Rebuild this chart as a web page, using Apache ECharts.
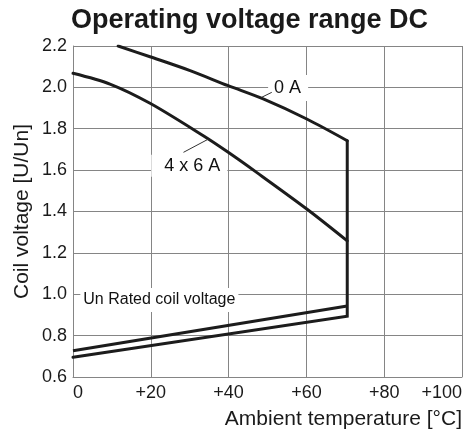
<!DOCTYPE html>
<html><head><meta charset="utf-8">
<script src="https://cdn.jsdelivr.net/npm/echarts@6/dist/echarts.min.js"></script>
<style>html,body{margin:0;padding:0;background:#fff}#c{width:465px;height:434px}</style>
</head><body><div id="c"></div>
<script>
// ---- data ----
const titleText = 'Operating voltage range DC';
const xName = 'Ambient temperature [°C]';
const yName = 'Coil voltage [U/Un]';
const xMin = 0, xMax = 100, xStep = 20;
const yMin = 0.6, yMax = 2.2, yStep = 0.2;

// upper limit at 0 A load current
const tempA0 = [11.6, 19.8, 30.1, 39.9, 48.9, 60.1, 70.5];
const voltA0 = [2.2, 2.148, 2.081, 2.008, 1.944, 1.847, 1.742];
// upper limit at 4 x 6 A
const temp4x6 = [0, 9.5, 19.8, 33.5, 39.9, 47.2, 60.1, 70.5];
const volt4x6 = [2.068, 2.016, 1.923, 1.766, 1.686, 1.589, 1.412, 1.258];
// maximum ambient temperature (vertical limit)
const limitTemp = 70.5;
// lower limits (pick-up voltage)
const tempLow = [0, 70.5];
const voltLowUpper = [0.727, 0.943];
const voltLowLower = [0.695, 0.894];

// annotation texts and anchors
const noteTexts = ['0 A', '4 x 6 A', 'Un Rated coil voltage'];
const noteTemp = [55.3, 29.9, 22.2];
const noteVolt = [1.997, 1.621, 0.972];
// leader lines of the annotations
const leaderA0Temp = [48.5, 51.1];
const leaderA0Volt = [1.952, 1.976];
const leader4x6Temp = [34.8, 28.4];
const leader4x6Volt = [1.750, 1.686];

// ---- build ----
const zip = (a, b) => a.map((v, i) => [v, b[i]]);
const boundary = [[limitTemp, voltA0[voltA0.length - 1]], [limitTemp, voltLowLower[1]], [tempLow[0], voltLowLower[0]]];

const FONT = '"Liberation Sans", Arial, Helvetica, sans-serif';
const INK = '#1c1c1c';
const TXT = '#1a1a1a';
const GRID = '#858585';

const padList = [[4, 7, 4, 6], [2, 7, 2, 13], [1, 3, 5, 3]];

const curve = (name, data) => ({
  type: 'line', name, data, symbol: 'none', z: 3, smooth: 0.3,
  lineStyle: {color: INK, width: 3, cap: 'round'}
});

const chart = echarts.init(document.getElementById('c'), null, {renderer: 'canvas'});
chart.setOption({
  animation: false,
  backgroundColor: '#fff',
  title: {
    text: titleText, left: 71, top: 7, padding: 0,
    textStyle: {fontFamily: FONT, fontSize: 27, fontWeight: 'bold', color: TXT}
  },
  grid: {left: 73, right: 3, top: 46, bottom: 57, outerBoundsMode: 'none'},
  xAxis: {
    type: 'value', min: xMin, max: xMax, interval: xStep,
    name: xName, nameLocation: 'end', nameGap: 0, nameMoveOverlap: false,
    nameTextStyle: {fontFamily: FONT, fontSize: 21, color: TXT, align: 'right', verticalAlign: 'top', padding: [32, 0, 0, 0]},
    axisLine: {show: true, lineStyle: {color: GRID, width: 1}},
    axisTick: {show: false},
    splitLine: {show: true, lineStyle: {color: GRID, width: 1}},
    axisLabel: {
      fontFamily: FONT, fontSize: 18, color: TXT, margin: 7,
      alignMinLabel: 'left', alignMaxLabel: 'right',
      formatter: v => v === 0 ? '0' : '+' + v
    }
  },
  yAxis: {
    type: 'value', min: yMin, max: yMax, interval: yStep,
    name: yName, nameLocation: 'middle', nameGap: 40, nameRotate: 90, nameMoveOverlap: false,
    nameTextStyle: {fontFamily: FONT, fontSize: 21, color: TXT},
    axisLine: {show: true, lineStyle: {color: GRID, width: 1}},
    axisTick: {show: false},
    splitLine: {show: true, lineStyle: {color: GRID, width: 1}},
    axisLabel: {
      fontFamily: FONT, fontSize: 18, color: TXT, margin: 6,
      formatter: v => v.toFixed(1)
    }
  },
  series: [
    {
      type: 'scatter', z: 1, symbolSize: 1, silent: true,
      itemStyle: {color: '#fff', opacity: 1},
      data: noteTexts.map((t, i) => ({
        value: [noteTemp[i], noteVolt[i]],
        label: {
          show: true, position: 'inside', formatter: t, opacity: 1,
          fontFamily: FONT, fontSize: i === 2 ? 16 : 18, lineHeight: 18,
          color: '#111', backgroundColor: '#fff', padding: padList[i]
        }
      }))
    },
    curve('0 A', zip(tempA0, voltA0)),
    curve('4 x 6 A', zip(temp4x6, volt4x6)),
    {type: 'line', name: 'limit', data: boundary, symbol: 'none', z: 3,
      lineStyle: {color: INK, width: 3, join: 'miter', cap: 'round'}},
    {type: 'line', name: 'low', data: zip(tempLow, voltLowUpper), symbol: 'none', z: 3,
      lineStyle: {color: INK, width: 3}},
    {type: 'line', name: 'leader0', data: zip(leaderA0Temp, leaderA0Volt), symbol: 'none', z: 3,
      lineStyle: {color: '#333', width: 1}},
    {type: 'line', name: 'leader1', data: zip(leader4x6Temp, leader4x6Volt), symbol: 'none', z: 3,
      lineStyle: {color: '#333', width: 1}}
  ]
});
</script>
</body></html>
